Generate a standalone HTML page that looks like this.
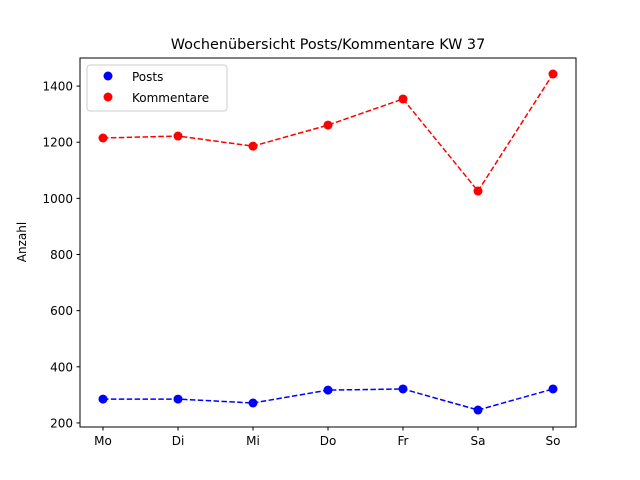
<!DOCTYPE html>
<html><head><meta charset="utf-8"><style>
body{margin:0;background:#fff;}
svg{display:block;font-family:"DejaVu Sans","Liberation Sans",sans-serif;}
</style></head><body>
<svg id="chart" width="640" height="480">
<rect width="640" height="480" fill="#fff"/>
<text x="328" y="49" font-size="14.4" text-anchor="middle">Wochenübersicht Posts/Kommentare KW 37</text>
<g id="axes"></g>
<text transform="translate(26,242) rotate(-90)" font-size="12" text-anchor="middle">Anzahl</text>
<g>
<rect x="87" y="65" width="140" height="46" rx="3" fill="#fff" stroke="#ccc"/>
<g><circle cx="108" cy="76" r="4.5" fill="blue"/><text x="132" y="81" font-size="12">Posts</text></g>
<g><circle cx="108" cy="97" r="4.5" fill="red"/><text x="132" y="102" font-size="12">Kommentare</text></g>
</g>
</svg>
<script>
const categories=["Mo","Di","Mi","Do","Fr","Sa","So"];
const posts=[285,285,271,317,321,246,321];
const kommentare=[1215,1222,1186,1261,1354,1026,1443];
const yTicks=[200,400,600,800,1000,1200,1400];
const L=80,R=576,T=58,B=427,yMin=185.5,yMax=1500;
const NS="http://www.w3.org/2000/svg";
const g=document.getElementById('axes');
const xs=i=>103+i*(553-103)/(categories.length-1);
const ys=v=>B-(v-yMin)/(yMax-yMin)*(B-T);
function mk(t,a,p){const e=document.createElementNS(NS,t);for(const k in a)e.setAttribute(k,a[k]);(p||g).appendChild(e);return e;}
yTicks.forEach(v=>{const y=ys(v);
const l=mk('line',{x1:L-3.5,x2:L,y1:y,y2:y,stroke:'#000'});


const t=mk('text',{x:L-7,y:y+4.5,'font-size':12,'text-anchor':'end'});t.textContent=v;

});
categories.forEach((c,i)=>{const x=xs(i);
const l=mk('line',{x1:x,x2:x,y1:B,y2:B+3.5,stroke:'#000'});


const t=mk('text',{x:x,y:B+18,'font-size':12,'text-anchor':'middle'});t.textContent=c;

});
function series(vals,col,name){
const p=mk('polyline',{points:vals.map((v,i)=>xs(i)+','+ys(v)).join(' '),fill:'none',stroke:col,'stroke-width':1.5,'stroke-dasharray':'5.5,2.4'});


vals.forEach((v,i)=>{const c=mk('circle',{cx:xs(i),cy:ys(v),r:4.5,fill:col});

});}
series(posts,'blue','posts');
series(kommentare,'red','kommentare');
const f=mk('rect',{x:L,y:T,width:R-L,height:B-T,fill:'none',stroke:'#000','stroke-width':1});


</script>
</body></html>
